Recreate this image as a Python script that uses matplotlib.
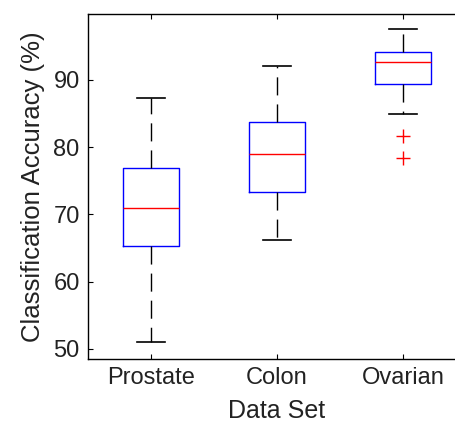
import matplotlib
matplotlib.use("Agg")
import matplotlib.pyplot as plt

plt.rcParams['font.family'] = ['Liberation Sans', 'DejaVu Sans']

# box summary per data set (classification accuracy, %)
datasets = ["Prostate", "Colon", "Ovarian"]
medians = [71.0, 79.0, 92.6]
q1 = [65.3, 73.4, 89.4]
q3 = [76.9, 83.8, 94.2]
whislo = [51.0, 66.2, 85.0]
whishi = [87.3, 92.0, 97.5]
fliers = [[], [], [81.6, 78.4]]

stats = []
for i in range(len(datasets)):
    stats.append(dict(label=datasets[i], med=medians[i], q1=q1[i], q3=q3[i],
                      whislo=whislo[i], whishi=whishi[i], fliers=fliers[i]))

fig = plt.figure(figsize=(4.56, 4.23), dpi=100)
# right edge of the axes runs past the figure border
ax = fig.add_axes([88/456, 64/423, 378/456, 345/423])

ax.bxp(stats, positions=[1, 2, 3], widths=0.45, capwidths=0.22,
       boxprops=dict(color="blue", lw=1.0),
       medianprops=dict(color="red", lw=1.0),
       whiskerprops=dict(color="black", lw=1.0, linestyle=(0, (13, 6.5))),
       capprops=dict(color="black", lw=1.2),
       flierprops=dict(marker="+", markeredgecolor="red", markersize=10,
                       markeredgewidth=1.0, linestyle="none"))

ax.set_xlim(0.5, 3.5)
ax.set_ylim(48.5, 99.8)
ax.set_yticks([50, 60, 70, 80, 90])
ax.tick_params(direction="in", length=3.5, width=0.8, labelsize=17,
               labelcolor="#222222", top=True, right=True, pad=6)
for s in ax.spines.values():
    s.set_linewidth(1.0)

ax.set_ylabel("Classification Accuracy (%)", fontsize=18.5, color="#222222",
              labelpad=6)
ax.set_xlabel("Data Set", fontsize=18, color="#222222", labelpad=7)

fig.savefig("out.png", dpi=100)
